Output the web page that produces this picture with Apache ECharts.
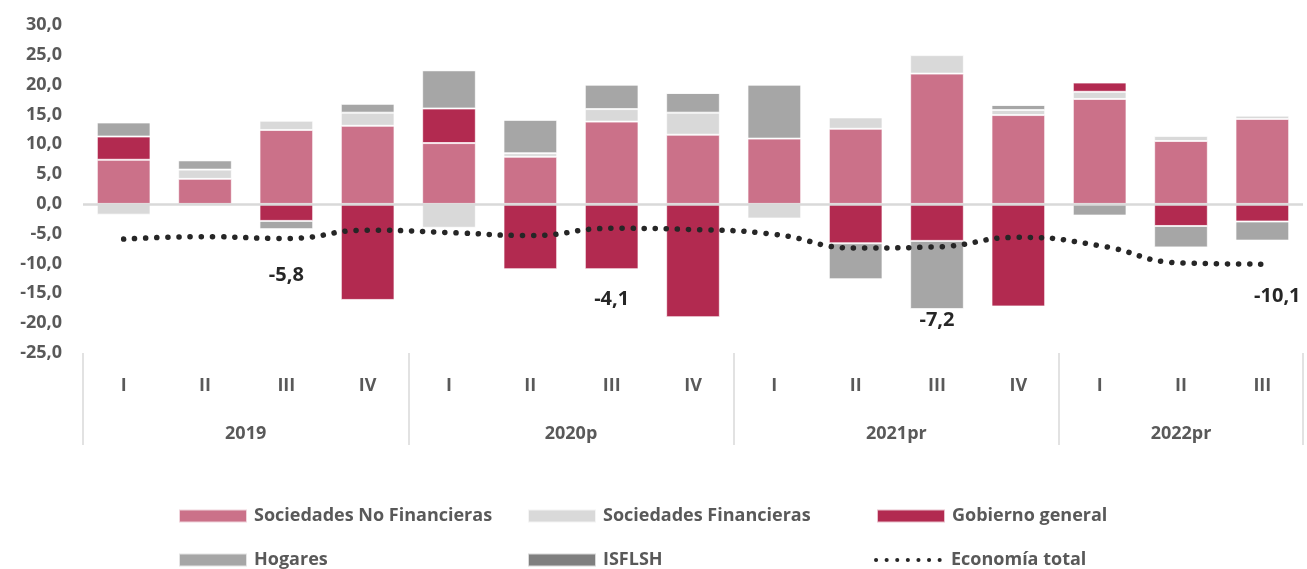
<!DOCTYPE html>
<html>
<head>
<meta charset="utf-8">
<script src="https://cdn.jsdelivr.net/npm/echarts@6/dist/echarts.min.js"></script>
<style>
  html, body { margin: 0; padding: 0; background: #fff; }
  #main { width: 1307px; height: 569px; }
</style>
</head>
<body>
<div id="main"></div>
<script>
// quarters and year groups
const quarters = ['I','II','III','IV','I','II','III','IV','I','II','III','IV','I','II','III'];
const years = ['2019', '2020p', '2021pr', '2022pr'];
const yearSizes = [4, 4, 4, 3];

// contributions by sector
const noFinancieras = [7.4, 4.2, 12.4, 13.1, 10.2, 7.9, 13.8, 11.6, 10.95, 12.6, 21.85, 14.9, 17.6, 10.55, 14.25];
const financieras   = [-1.8, 1.55, 1.55, 2.2, -4.0, 0.6, 2.1, 3.7, -2.45, 1.9, 3.1, 0.85, 1.2, 0.85, 0.55];
const gobierno      = [3.9, 0, -2.85, -16.1, 5.8, -10.95, -10.95, -19.0, 0, -6.6, -6.2, -17.2, 1.55, -3.7, -2.95];
const hogares       = [2.35, 1.55, -1.4, 1.5, 6.4, 5.6, 4.1, 3.3, 9.05, -6.05, -11.45, 0.85, -1.95, -3.6, -3.2];
const isflsh        = [0, 0, 0, 0, 0, 0, 0, 0, 0, 0, 0, 0, 0, 0, 0];
const economiaTotal = [-5.9, -5.5, -5.8, -4.4, -4.8, -5.3, -4.1, -4.3, -5.1, -7.4, -7.2, -5.6, -7.0, -9.9, -10.1];

// which points of the total line carry a value label
const labelledIdx = [2, 6, 10, 14];
const labelOffsets = [[0, 37], [0, 71], [0, 73], [15, 32]];

// year group boundaries and centres on a 0..15 value scale
const boundaries = [0];
const centres = [];
yearSizes.forEach(n => {
  const start = boundaries[boundaries.length - 1];
  centres.push(start + n / 2);
  boundaries.push(start + n);
});

const FONT = '"Open Sans", "DejaVu Sans", sans-serif';
const TXT = '#595959';
const fmt = v => v.toFixed(1).replace('.', ',');

const totalData = economiaTotal.map((v, i) => {
  const k = labelledIdx.indexOf(i);
  if (k < 0) return v;
  return { value: v, label: { show: true, offset: labelOffsets[k] } };
});

function barSeries(name, data, color, extra) {
  return Object.assign({
    name: name,
    type: 'bar',
    stack: 'total',
    data: data,
    barWidth: '66%',
    itemStyle: { color: color, borderColor: 'rgba(255,255,255,0.7)', borderWidth: 1 },
    emphasis: { disabled: true }
  }, extra || {});
}

const legendCommon = {
  icon: 'rect',
  padding: 0,
  itemWidth: 68,
  itemHeight: 13,
  itemGap: 0,
  textStyle: { fontFamily: FONT, fontSize: 18, fontWeight: 'bold', color: TXT, padding: [0, 0, 0, 2] }
};

let option = {
  animation: false,
  grid: { left: 83, right: 4, top: 25, bottom: 216 },
  legend: [
    Object.assign({ data: ['Sociedades No Financieras'], left: 178, top: 507 }, legendCommon),
    Object.assign({ data: ['Sociedades Financieras'], left: 527, top: 507 }, legendCommon),
    Object.assign({ data: ['Gobierno general'], left: 876, top: 507 }, legendCommon),
    Object.assign({ data: ['Hogares'], left: 178, top: 551 }, legendCommon),
    Object.assign({ data: ['ISFLSH'], left: 527, top: 551 }, legendCommon),
    Object.assign({}, legendCommon, {
      data: ['Economía total'], left: 874, top: 551,
      icon: null,
      itemStyle: { opacity: 0 },
      lineStyle: { width: 4, type: [0.1, 10.5], cap: 'round', color: '#262626' }
    })
  ],
  xAxis: [
    {
      type: 'category',
      data: quarters,
      position: 'bottom',
      axisLine: { show: false, onZero: false },
      axisTick: { show: false },
      axisLabel: { margin: 24, fontFamily: FONT, fontSize: 18, fontWeight: 'bold', color: TXT }
    },
    {
      type: 'value',
      min: 0,
      max: quarters.length,
      position: 'bottom',
      axisLine: { show: false, onZero: false },
      splitLine: { show: false },
      axisTick: {
        show: true, length: 92, customValues: boundaries,
        lineStyle: { color: '#D9D9D9', width: 1.5 }
      },
      axisLabel: {
        margin: 72, customValues: centres,
        formatter: v => years[centres.indexOf(v)],
        fontFamily: FONT, fontSize: 18, fontWeight: 'bold', color: TXT
      }
    }
  ],
  yAxis: {
    type: 'value',
    min: -25,
    max: 30,
    interval: 5,
    axisLine: { show: false },
    axisTick: { show: false },
    splitLine: { show: false },
    axisLabel: { margin: 21, formatter: fmt, fontFamily: FONT, fontSize: 18, fontWeight: 'bold', color: TXT }
  },
  series: [
    barSeries('Sociedades No Financieras', noFinancieras, '#CB7189', {
      markLine: {
        silent: true,
        symbol: 'none',
        label: { show: false },
        lineStyle: { color: '#D9D9D9', width: 2.5, type: 'solid' },
        data: [{ yAxis: 0 }]
      }
    }),
    barSeries('Sociedades Financieras', financieras, '#D9D9D9'),
    barSeries('Gobierno general', gobierno, '#B22A50'),
    barSeries('Hogares', hogares, '#A6A6A6'),
    barSeries('ISFLSH', isflsh, '#7F7F7F'),
    {
      name: 'Economía total',
      type: 'line',
      data: totalData,
      smooth: true,
      symbol: 'circle',
      symbolSize: 0.1,
      showSymbol: true,
      z: 5,
      itemStyle: { color: '#262626' },
      lineStyle: { color: '#262626', width: 5.5, type: [0.1, 11], cap: 'round' },
      label: {
        show: false,
        position: 'inside',
        formatter: p => fmt(p.value),
        fontFamily: FONT, fontSize: 20, fontWeight: 'bold', color: '#262626'
      },
      emphasis: { disabled: true }
    }
  ]
};

let chartDom = document.getElementById('main');
let myChart = echarts.init(chartDom);
option && myChart.setOption(option);
</script>
</body>
</html>
